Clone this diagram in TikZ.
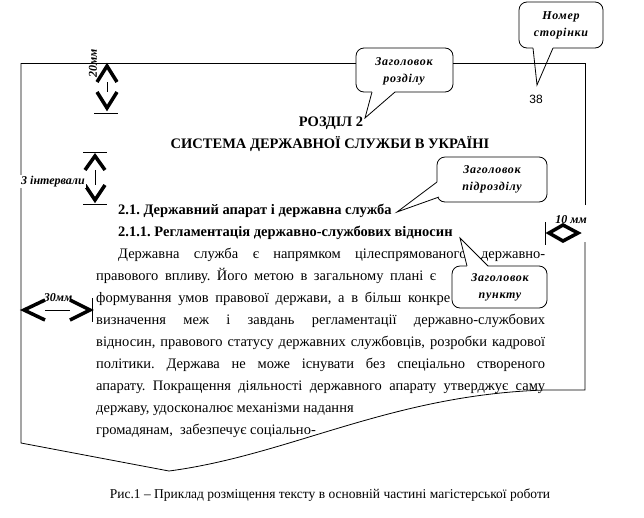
\documentclass[tikz,border=0pt]{standalone}
\usepackage{fontspec}
\setmainfont{Liberation Serif}
\newfontfamily\pgsans{Liberation Sans}
\newfontfamily\callfont[LetterSpace=6]{Liberation Serif}
\frenchspacing
\begin{document}
\begin{tikzpicture}[x=1pt,y=-1pt]
\tikzset{
 body/.style={anchor=base west, inner sep=0pt, font=\fontsize{14.5}{17}\selectfont\frenchspacing},
 headw/.style={anchor=base west, inner sep=0pt, font=\fontsize{14.5}{17}\selectfont\bfseries},
 headc/.style={anchor=base, inner sep=0pt, font=\fontsize{14.5}{17}\selectfont\bfseries},
 lbl/.style={inner sep=0pt, font=\fontsize{12}{14}\selectfont\bfseries\itshape},
 ctext/.style={inner sep=0pt, align=center, font=\callfont\fontsize{12}{17}\selectfont\bfseries\itshape},
 chev/.style={line width=3.5pt, miter limit=10},
 thinl/.style={line width=0.8pt},
 callbox/.style={draw, fill=white, rounded corners=8pt, line width=0.8pt},
}
\newcommand{\wedgeptr}[3]{%
  \fill[white] (#3) -- (#1) -- (#2) -- cycle;
  \draw[white, line width=1.8pt] (#1) -- (#2);
  \draw[thinl] (#1) -- (#3) -- (#2);}
\useasboundingbox (0,0) rectangle (644,517);

% page outline
\draw[thinl] (21,63) -- (21,443) -- (169,471) .. controls (290,455) and (390,395) .. (545,390) -- (585,390) -- (585,242);
\draw[thinl] (585,205) -- (585,63) -- (21,63);

% headings
\node[headc] (h1) at (331,126) {РОЗДІЛ 2};
\node[headc] (h2) at (330,148) {СИСТЕМА ДЕРЖАВНОЇ СЛУЖБИ В УКРАЇНІ};
\node[headw] (h3) at (118,214) {2.1. Державний апарат і державна служба};
\node[headw] (h4) at (118,236) {2.1.1. Регламентація державно-службових відносин};

% body
\node[body] (l1) at (118,258) {\makebox[427pt][s]{Державна служба є напрямком цілеспрямованого державно-}};
\node[body] (l2) at (96,280) {\makebox[340pt][s]{правового впливу. Його метою в загальному плані є}};
\node[body] (l3) at (96,302) {\makebox[354pt][s]{формування умов правової держави, а в більш конкре}};
\node[body] (l4) at (96,324) {\makebox[449pt][s]{визначення меж і завдань регламентації державно-службових}};
\node[body] (l5) at (96,346) {\makebox[449pt][s]{відносин, правового статусу державних службовців, розробки кадрової}};
\node[body] (l6) at (96,368) {\makebox[449pt][s]{політики. Держава не може існувати без спеціально створеного}};
\node[body] (l7) at (96,390) {\makebox[449pt][s]{апарату. Покращення діяльності державного апарату утверджує саму}};
\node[body] (l8) at (96,412) {державу, удосконалює механізми надання};
\node[body] (l9) at (96,434) {громадянам,\ \ забезпечує соціально-};

% page number
\node[anchor=base, inner sep=0pt, font=\pgsans\fontsize{12}{14}\selectfont] (pg) at (536,103) {38};

% callouts
\draw[callbox] (519,2) rectangle (603,48);
\wedgeptr{533,48}{553,48}{537,85}
\node[ctext] (cn) at (561,25) {Номер\\сторінки};

\draw[callbox] (356,48) rectangle (453,92);
\wedgeptr{372,92}{395,92}{365,118}
\node[ctext] (cr) at (404,71) {Заголовок\\розділу};

\draw[callbox] (437,157) rectangle (547,202);
\wedgeptr{437,182}{439,197}{397,212}
\node[ctext] (cp) at (492,179) {Заголовок\\підрозділу};

\draw[callbox] (452,266) rectangle (547,308);
\wedgeptr{467,266}{488,266}{460,238}
\node[ctext] (cu) at (500,287) {Заголовок\\пункту};

% redraw top line through page-number pointer
\draw[thinl] (453,63) -- (585,63);

% 20 mm
\draw[chev] (97,82) -- (107,66) -- (117,82);
\draw[thinl] (107,82) -- (107,92);
\draw[chev] (97,92) -- (107,108) -- (117,92);
\draw[thinl] (94,113) -- (118,113);
\node[lbl, rotate=90] (m20) at (93,63) {20мм};

% 3 intervals
\draw[thinl] (83,152) -- (107,152);
\draw[chev] (85,170) -- (95,156) -- (105,170);
\draw[thinl] (95,170) -- (95,185);
\draw[chev] (85,185) -- (95,200) -- (105,185);
\draw[thinl] (83,204) -- (107,204);
\node[lbl, fill=white, anchor=base, inner sep=1pt] (m3) at (53,184) {3 інтервали};

% 30 mm
\draw[chev] (45,300) -- (24,310) -- (45,320);
\draw[thinl] (45,310) -- (70,310);
\draw[chev] (70,300) -- (90,310) -- (70,320);
\draw[thinl] (92,298) -- (92,322);
\node[lbl, anchor=base] (m30) at (58,301) {30мм};

% 10 mm
\draw[thinl] (545,222) -- (545,245);
\draw[chev] (549,233) -- (563,225) -- (578,233) -- (563,241) -- cycle;
\node[lbl, anchor=base] (m10) at (571,223) {10 мм};

% caption
\node[anchor=base, inner sep=0pt, font=\fontsize{13.5}{17}\selectfont] (cap) at (330,498) {Рис.1 – Приклад розміщення тексту в основній частині магістерської роботи};
\end{tikzpicture}
\end{document}
